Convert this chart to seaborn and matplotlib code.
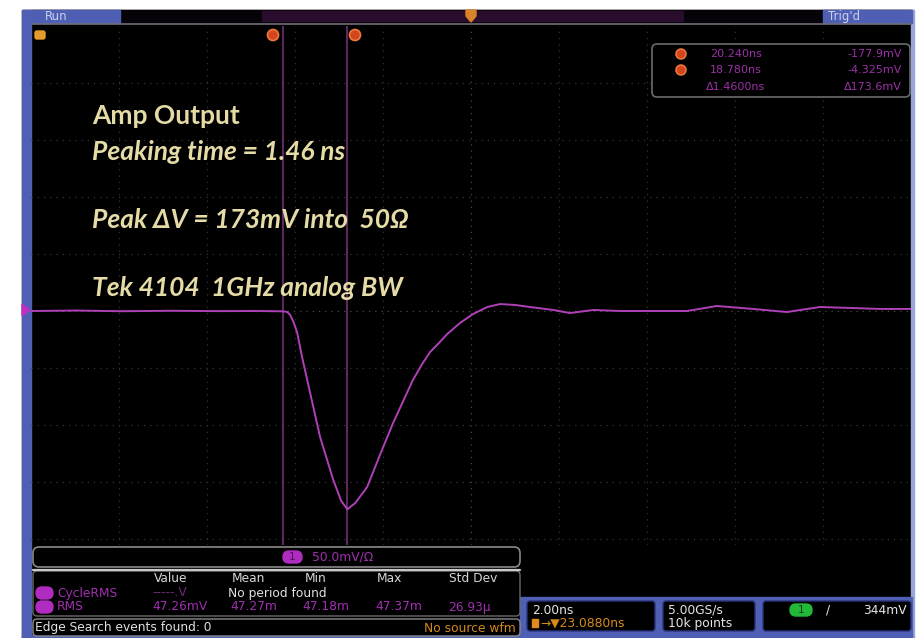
import numpy as np
import pandas as pd
import matplotlib
matplotlib.use("Agg")
import matplotlib.pyplot as plt
import seaborn as sns
from matplotlib.patches import FancyBboxPatch, Rectangle, Circle, Polygon

# ---- channel 1 trace: time (ns) and amplitude (mV) ----
time_ns = [13.05, 14.10, 15.10, 16.20, 17.30, 18.20, 18.78, 18.87, 18.94, 19.02,
           19.10, 19.21, 19.42, 19.62, 19.92, 20.10, 20.24, 20.42, 20.69, 20.98,
           21.28, 21.73, 21.94, 22.12, 22.32, 22.51, 22.80, 23.10, 23.42, 23.71,
           24.05, 24.39, 24.92, 25.30, 25.83, 26.44, 27.19, 27.96, 28.64, 29.46,
           30.23, 30.98, 31.73, 32.35, 33.05]
ch1_mV = [-4.0, -3.6, -4.2, -3.8, -4.1, -4.0, -4.3, -4.8, -7.5, -14.0,
          -23.0, -44.3, -80.3, -114.5, -152.2, -170.6, -177.9, -172.4, -158.4, -130.3,
          -102.2, -64.5, -50.5, -40.0, -32.1, -24.2, -14.5, -6.6, -0.5, 2.1,
          1.3, -0.5, -3.1, -5.8, -3.1, -4.0, -4.0, -4.0, 0.4, -2.2,
          -4.9, -0.5, -1.4, -2.2, -2.2]

# cursors (b, a)
cursor_time_ns = [18.78, 20.24]
cursor_level_mV = [-4.325, -177.9]
cursor_time_labels = ["18.780ns", "20.240ns", "\u03941.4600ns"]
cursor_level_labels = ["-4.325mV", "-177.9mV", "\u0394173.6mV"]

# display settings
time_per_div = 2.0
volts_per_div = 50.0
screen_left_ns = 13.05
trace_offset_mV = -4.0

# measurement table
meas_headers = ["Value", "Mean", "Min", "Max", "Std Dev"]
rms_values = ["47.26mV", "47.27m", "47.18m", "47.37m", "26.93\u00b5"]

notes = ["Amp Output", "Peaking time = 1.46 ns", "Peak \u0394V = 173mV into  50\u03a9",
         "Tek 4104  1GHz analog BW"]

sns.set_style("white")
plt.rcParams["font.family"] = ["DejaVu Sans"]

W, H = 919, 638
fig = plt.figure(figsize=(W / 100, H / 100), dpi=100)
fig.patch.set_facecolor("white")

BLUE = "#4f5fb4"
MAG = "#b040b8"
TXT_MAG = "#a030b0"
ORANGE = "#d9842a"

# background layer in pixel coordinates
bg = fig.add_axes([0, 0, 1, 1], zorder=0)
bg.set_xlim(0, W); bg.set_ylim(H, 0); bg.axis("off")
bg.add_patch(Rectangle((22, 10), 891, 628, color="black"))
bg.add_patch(Rectangle((22, 10), 9, 628, color=BLUE))
bg.add_patch(Rectangle((911, 10), 3, 628, color="#9aa6d8"))
# top status bar
bg.add_patch(Rectangle((31, 10), 880, 13, color="#050308"))
bg.add_patch(Rectangle((262, 11), 421, 10, color="#2a0c2c"))
bg.add_patch(Rectangle((23, 10), 97, 13, color=BLUE))
bg.add_patch(Rectangle((823, 10), 89, 13, color=BLUE))
bg.plot([31, 911], [23.5, 23.5], color="#6e6e78", lw=1.2)
# lower status area
bg.add_patch(Rectangle((520, 597), 392, 41, color=BLUE))
bg.add_patch(Rectangle((22, 635), 890, 3, color=BLUE))

# scope graticule + trace
top_px, bot_px = 26, 545
px_per_mV = 57.0 / volts_per_div
zero_px = 311
v_top = trace_offset_mV + (zero_px - top_px) / px_per_mV
v_bot = trace_offset_mV - (bot_px - zero_px) / px_per_mV
ax = fig.add_axes([31 / W, 1 - bot_px / H, 880 / W, (bot_px - top_px) / H], zorder=1)
ax.set_facecolor("none")
ax.set_xlim(screen_left_ns, screen_left_ns + 10 * time_per_div)
ax.set_ylim(v_bot, v_top)
for s in ax.spines.values():
    s.set_visible(False)
ax.set_xticks([]); ax.set_yticks([])

for k in range(1, 10):
    ax.axvline(screen_left_ns + k * time_per_div, color="#4a4a4a" if k == 5 else "#333333",
               lw=0.9, ls=(0, (1, 4)))
for k in range(-4, 5):
    ax.axhline(trace_offset_mV + k * volts_per_div, color="#4a4a4a" if k == 0 else "#333333",
               lw=0.9, ls=(0, (1, 4)))

for t in cursor_time_ns:
    ax.axvline(t, color="#7c347c", lw=1.1)

df = pd.DataFrame({"t": time_ns, "v": ch1_mV})
sns.lineplot(data=df, x="t", y="v", ax=ax, color=MAG, lw=1.4, estimator=None, sort=False)
ax.set_xlabel(""); ax.set_ylabel("")

# overlay layer in pixel coordinates
ov = fig.add_axes([0, 0, 1, 1], zorder=2)
ov.set_xlim(0, W); ov.set_ylim(H, 0); ov.axis("off"); ov.patch.set_alpha(0)

ui = dict(fontsize=8.8, va="center")
ro = dict(fontsize=8.0, va="center")
ov.text(45, 16.5, "Run", color="#c9d1f2", fontsize=8.5, va="center")
ov.text(828, 16.5, "Trig'd", color="#c9d1f2", fontsize=8.5, va="center")

# trigger position marker
ov.add_patch(Polygon([[466, 10], [476, 10], [476, 16], [471, 22], [466, 16]], color=ORANGE))
# horizontal position marker
ov.add_patch(FancyBboxPatch((35, 31), 10, 8, boxstyle="round,pad=0,rounding_size=2",
                            color="#e79a2c"))
# cursor flags
for cx in [273, 355]:
    ov.add_patch(Circle((cx, 35), 5.5, facecolor="#d2451f", edgecolor="#f07a3c", lw=1.2))
# channel 1 ground marker
ov.add_patch(Polygon([[22, 304], [22, 316], [30, 310]], color="#c030c0"))

# cursor readout panel
ov.add_patch(FancyBboxPatch((652, 44), 258, 53, boxstyle="round,pad=0,rounding_size=5",
                            facecolor="black", edgecolor="#6a6a6a", lw=1.2))
rows_y = [54, 70, 87]
for i, y in enumerate(rows_y):
    idx = [1, 0, 2][i]
    if i < 2:
        ov.add_patch(Circle((681, y), 5, facecolor="#d2451f", edgecolor="#f07a3c", lw=1.1))
    ov.text(736, y, cursor_time_labels[idx], color="#9c30a8", ha="center", **ro)
    ov.text(902, y, cursor_level_labels[idx], color="#9c30a8", ha="right", **ro)

# annotation text
note_font = dict(family=["Lato", "DejaVu Sans"], color="#e5dba6", weight="bold", fontsize=19)
ov.text(92, 116, notes[0], va="center", **note_font)
ov.text(92, 152, notes[1], va="center", style="italic", **note_font)
ov.text(92, 220, notes[2], va="center", style="italic", **note_font)
ov.text(92, 288, notes[3], va="center", style="italic", **note_font)

# measurement panel
ov.add_patch(FancyBboxPatch((33, 547), 487, 20, boxstyle="round,pad=0,rounding_size=6",
                            facecolor="black", edgecolor="#8a8a8a", lw=1.2))
ov.add_patch(FancyBboxPatch((283, 551), 19, 12, boxstyle="round,pad=0,rounding_size=6",
                            color="#b02cc0"))
ov.text(292.5, 557, "1", color="#5a0a60", ha="center", fontsize=7.5, va="center")
ov.text(312, 557, "50.0mV/\u03a9", color=TXT_MAG, **ui)
ov.plot([33, 520], [569.5, 569.5], color="#c8c8c8", lw=1.6)
ov.add_patch(FancyBboxPatch((33, 571), 487, 45, boxstyle="round,pad=0,rounding_size=4",
                            facecolor="black", edgecolor="#6a6a6a", lw=1.0))
for name, x in zip(meas_headers, [171, 248, 316, 389, 473]):
    ov.text(x, 578, name, color="#d6d6d6", ha="center", **ui)
for y, label in [(593, "CycleRMS"), (607, "RMS")]:
    ov.add_patch(FancyBboxPatch((36, y - 6), 17, 12, boxstyle="round,pad=0,rounding_size=6",
                                color="#b02cc0"))
    ov.text(57, y, label, color=TXT_MAG, **ui)
ov.text(152, 593, "-----.V", color="#6e2a78", **ui)
ov.text(228, 593, "No period found", color="#e0e0e0", **ui)
for val, x in zip(rms_values, [152, 230, 302, 375, 448]):
    ov.text(x, 607, val, color=TXT_MAG, **ui)
ov.add_patch(FancyBboxPatch((33, 619), 487, 17, boxstyle="round,pad=0,rounding_size=4",
                            facecolor="black", edgecolor="#8a8a8a", lw=1.0))
ov.text(35, 628, "Edge Search events found: 0", color="#e0e0e0", **ui)
ov.text(516, 628, "No source wfm", color="#d5881c", ha="right", **ui)

# horizontal / acquisition / trigger boxes
for x0, w in [(527, 128), (663, 92), (763, 148)]:
    ov.add_patch(FancyBboxPatch((x0, 601), w, 30, boxstyle="round,pad=0,rounding_size=3",
                                facecolor="black", edgecolor="#2a3580", lw=1.0))
ov.text(532, 610, f"{time_per_div:.2f}ns", color="#e6e6e6", **ui)
ov.add_patch(Rectangle((532, 619), 6, 8, color="#e08a20"))
ov.text(540, 623, "\u2192\u25bc23.0880ns", color="#d88a1a", **ui)
ov.text(668, 610, "5.00GS/s", color="#e6e6e6", **ui)
ov.text(668, 623, "10k points", color="#e6e6e6", **ui)
ov.add_patch(FancyBboxPatch((790, 604), 22, 12, boxstyle="round,pad=0,rounding_size=6",
                            color="#22b838"))
ov.text(801, 610, "1", color="#0a4010", ha="center", fontsize=7.5, va="center")
ov.text(828, 610, "/", color="#e6e6e6", ha="center", **ui)
ov.text(907, 610, "344mV", color="#e6e6e6", ha="right", **ui)

fig.savefig("out.png", dpi=100, facecolor="white")
